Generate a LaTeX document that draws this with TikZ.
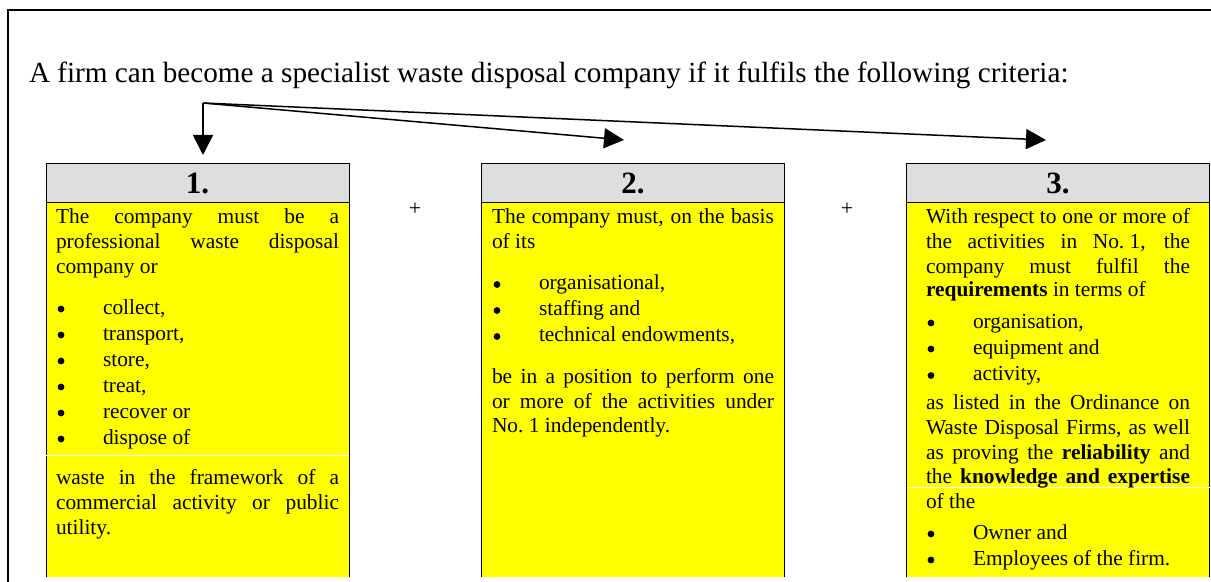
\documentclass[tikz,border=0pt]{standalone}
\usepackage{fontspec}
\setmainfont{Liberation Serif}
\usetikzlibrary{arrows.meta}
\definecolor{hdrgray}{HTML}{DEDEDE}
\definecolor{boxyellow}{HTML}{FFFF00}
\newcommand\jline[2]{\makebox[#1][s]{#2}}
\newcommand\putline[4]{\node[txt] (#1) at (#2,#3) {#4};}
\newcommand\putbul[4]{\fill[black] (#2+5,#3-5.5) circle (3.4);\node[txt] (#1) at (#2+47,#3) {#4};}
\begin{document}
\begin{tikzpicture}[x=0.5pt,y=-0.5pt,
  txt/.style={anchor=base west, inner sep=0pt, outer sep=0pt, font=\fontsize{10.7}{13}\selectfont},
  plus/.style={anchor=base, inner sep=0pt, outer sep=0pt, font=\fontsize{11}{13}\selectfont},
  title/.style={anchor=base west, inner sep=0pt, outer sep=0pt, font=\fontsize{14.6}{17}\selectfont},
  hdr/.style={fill=hdrgray, draw=none, minimum width=151.5pt, minimum height=19.5pt, inner sep=0pt, outer sep=0pt, font=\fontsize{15.5}{18}\selectfont\bfseries},
  body/.style={fill=boxyellow, draw=none, minimum width=151.5pt, minimum height=187pt, inner sep=0pt, outer sep=0pt},
  border/.style={line width=0.5pt, black},
  sep/.style={line width=0.5pt, white},
  frame/.style={line width=1pt, black},
  arr/.style={-{Triangle[length=10pt,width=10pt]}, line width=0.75pt, black}]
\useasboundingbox (0,0) rectangle (1211,582);
% outer frame (top and left edges visible)
\coordinate (fbl) at (8,582);
\coordinate (ftl) at (8,10);
\coordinate (ftr) at (1211,10);
\draw[frame] (fbl) -- (ftl) -- (ftr);
% title
\node[title] (title) at (29,83) {A firm can become a specialist waste disposal company if it fulfils the following criteria:};
% arrows
\coordinate (src) at (203,103);
\coordinate (t1) at (203,155);
\coordinate (t2) at (624,140);
\coordinate (t3) at (1046,140);
\draw[arr] (src) -- (t1);
\draw[arr] (src) -- (t2);
\draw[arr] (src) -- (t3);
% box 1
\node[hdr] (h1) at (197.5,183.5) {1.};
\node[body] (c1) at (197.5,390) {};
\draw[border] (c1.south west) -- (h1.north west) -- (h1.north east) -- (c1.south east);
\draw[border] (h1.south west) -- (h1.south east);
\draw[sep] ([yshift=-33pt]c1.west) -- ([yshift=-33pt]c1.east);
% box 2
\node[hdr] (h2) at (633,183.5) {2.};
\node[body] (c2) at (633,390) {};
\draw[border] (c2.south west) -- (h2.north west) -- (h2.north east) -- (c2.south east);
\draw[border] (h2.south west) -- (h2.south east);
% box 3
\node[hdr] (h3) at (1058,183.5) {3.};
\node[body] (c3) at (1058,390) {};
\draw[border] (c3.south west) -- (h3.north west) -- (h3.north east) -- (c3.south east);
\draw[border] (h3.south west) -- (h3.south east);
\draw[sep] ([yshift=-49pt]c3.west) -- ([yshift=-49pt]c3.east);
% plus signs
\node[plus] (p1) at (415,216) {+};
\node[plus] (p2) at (847,216) {+};
% box 1 text
\putline{b1a}{56}{223.5}{\jline{141.5pt}{The company must be a}}
\putline{b1b}{56}{248.5}{\jline{141.5pt}{professional waste disposal}}
\putline{b1c}{56}{273.5}{company or}
\putbul{b1d}{56}{314.5}{collect,}
\putbul{b1e}{56}{340.5}{transport,}
\putbul{b1f}{56}{366.5}{store,}
\putbul{b1g}{56}{392.5}{treat,}
\putbul{b1h}{56}{418.5}{recover or}
\putbul{b1i}{56}{444.5}{dispose of}
\putline{b1j}{56}{484.5}{\jline{141.5pt}{waste in the framework of a}}
\putline{b1k}{56}{509.5}{\jline{141.5pt}{commercial activity or public}}
\putline{b1l}{56}{534.5}{utility.}
% box 2 text
\putline{b2a}{492}{224}{\jline{141pt}{The company must, on the basis}}
\putline{b2b}{492}{249}{of its}
\putbul{b2c}{492}{290}{organisational,}
\putbul{b2d}{492}{316}{staffing and}
\putbul{b2e}{492}{342}{technical endowments,}
\putline{b2f}{492}{384}{\jline{141pt}{be in a position to perform one}}
\putline{b2g}{492}{408.5}{\jline{141pt}{or more of the activities under}}
\putline{b2h}{492}{433}{No.\hspace{0.25em}1 independently.}
% box 3 text
\putline{b3a}{926}{224}{\jline{132pt}{With respect to one or more of}}
\putline{b3b}{926}{249}{\jline{132pt}{the activities in No.\hspace{0.25em}1, the}}
\putline{b3c}{926}{274}{\jline{132pt}{company must fulfil the}}
\putline{b3d}{926}{297}{\textbf{requirements} in terms of}
\putbul{b3e}{926}{328.5}{organisation,}
\putbul{b3f}{926}{354.5}{equipment and}
\putbul{b3g}{926}{381}{activity,}
\putline{b3h}{926}{410}{\jline{132pt}{as listed in the Ordinance on}}
\putline{b3i}{926}{435}{\jline{132pt}{Waste Disposal Firms, as well}}
\putline{b3j}{926}{459.5}{\jline{132pt}{as proving the \textbf{reliability} and}}
\putline{b3k}{926}{484}{\jline{132pt}{the \textbf{knowledge and expertise}}}
\putline{b3l}{926}{509}{of the}
\putbul{b3m}{926}{539.5}{Owner and}
\putbul{b3n}{926}{565.5}{Employees of the firm.}
\end{tikzpicture}
\end{document}
